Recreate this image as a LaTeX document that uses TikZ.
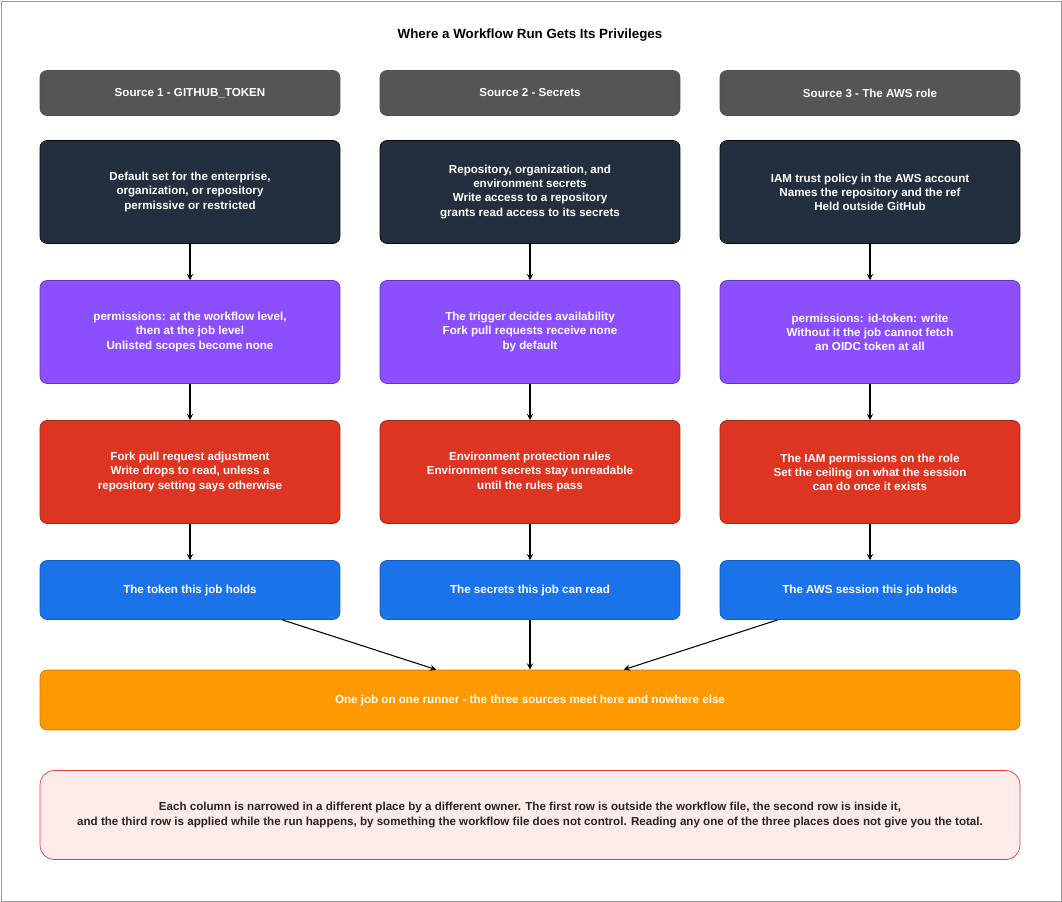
\documentclass[tikz,border=0pt]{standalone}
\usepackage{fontspec}
\setmainfont{Liberation Sans}
\usetikzlibrary{positioning}
\definecolor{headgray}{HTML}{555555}
\definecolor{darkbox}{HTML}{232F3E}
\definecolor{purplebox}{HTML}{8C4FFF}
\definecolor{redbox}{HTML}{DD3522}
\definecolor{bluebox}{HTML}{1A73E8}
\definecolor{orangebox}{HTML}{FF9900}
\definecolor{notefill}{HTML}{FDEBEA}
\definecolor{noteline}{HTML}{E0413A}
\begin{document}
\begin{tikzpicture}
    [x=0.02cm, y=-0.02cm,
     every node/.style={font=\bfseries\fontsize{6.6}{8}\selectfont, align=center},
     box/.style={rectangle, rounded corners=4pt, minimum width=6cm, text=white},
     head/.style={box, fill=headgray, draw=black!70, minimum height=0.9cm},
     stage/.style={box, minimum height=2.06cm},
     result/.style={box, fill=bluebox, draw=bluebox!80!black, minimum height=1.18cm},
     flow/.style={->, >=stealth, semithick}]

    \useasboundingbox (0,0) rectangle (1062,902);
    \draw[black!40] (1,1) rectangle (1061,901);

    \node (title) at (530,35) {\fontsize{7.6}{9}\selectfont Where a Workflow Run Gets Its Privileges};

    % column heads
    \node[head] (h1) at (190,93) {Source 1 - GITHUB\_TOKEN};
    \node[head] (h2) at (530,93) {Source 2 - Secrets};
    \node[head] (h3) at (870,93) {Source 3 - The AWS role};

    % first row: outside the workflow file
    \node[stage, fill=darkbox, draw=black] (a1) at (190,192) {Default set for the enterprise,\\organization, or repository\\permissive or restricted};
    \node[stage, fill=darkbox, draw=black] (a2) at (530,192) {Repository, organization, and\\environment secrets\\Write access to a repository\\grants read access to its secrets};
    \node[stage, fill=darkbox, draw=black] (a3) at (870,192) {IAM trust policy in the AWS account\\Names the repository and the ref\\Held outside GitHub};

    % second row: inside the workflow file
    \node[stage, fill=purplebox, draw=purplebox!70!black] (b1) at (190,332) {permissions: at the workflow level,\\then at the job level\\Unlisted scopes become none};
    \node[stage, fill=purplebox, draw=purplebox!70!black] (b2) at (530,332) {The trigger decides availability\\Fork pull requests receive none\\by default};
    \node[stage, fill=purplebox, draw=purplebox!70!black] (b3) at (870,332) {permissions: id-token: write\\Without it the job cannot fetch\\an OIDC token at all};

    % third row: applied while the run happens
    \node[stage, fill=redbox, draw=redbox!70!black] (c1) at (190,472) {Fork pull request adjustment\\Write drops to read, unless a\\repository setting says otherwise};
    \node[stage, fill=redbox, draw=redbox!70!black] (c2) at (530,472) {Environment protection rules\\Environment secrets stay unreadable\\until the rules pass};
    \node[stage, fill=redbox, draw=redbox!70!black] (c3) at (870,472) {The IAM permissions on the role\\Set the ceiling on what the session\\can do once it exists};

    \node[result] (r1) at (190,590) {The token this job holds};
    \node[result] (r2) at (530,590) {The secrets this job can read};
    \node[result] (r3) at (870,590) {The AWS session this job holds};

    \node[box, fill=orangebox, draw=orangebox!80!black, minimum width=19.6cm, minimum height=1.2cm] (run) at (530,700) {One job on one runner - the three sources meet here and nowhere else};

    \node[box, fill=notefill, draw=noteline, text=black!85, minimum width=19.6cm, minimum height=1.78cm, rounded corners=8pt] (note) at (530,815) {Each column is narrowed in a different place by a different owner. The first row is outside the workflow file, the second row is inside it,\\and the third row is applied while the run happens, by something the workflow file does not control. Reading any one of the three places does not give you the total.};

    \foreach \i in {1,2,3} {
      \draw[flow] (a\i) -- (b\i);
      \draw[flow] (b\i) -- (c\i);
      \draw[flow] (c\i) -- (r\i);
      \draw[flow] (r\i) -- (run);
    }
\end{tikzpicture}
\end{document}
